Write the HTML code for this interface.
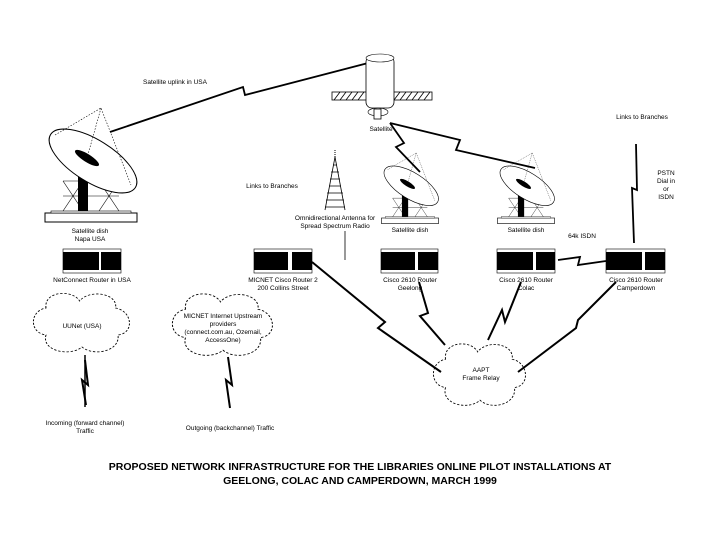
<!DOCTYPE html>
<html><head><meta charset="utf-8"><style>
html,body{margin:0;padding:0;background:#fff;}
svg{display:block;font-family:"Liberation Sans",sans-serif;}
text{font-size:6.5px;fill:#000;text-anchor:middle;}
.t{font-size:10.5px;font-weight:bold;}
</style></head><body>
<svg width="720" height="540" viewBox="0 0 720 540" xmlns="http://www.w3.org/2000/svg">
<defs>
<g id="dish">
  <rect x="-46" y="0" width="92" height="9" fill="#fff" stroke="#000" stroke-width="1"/>
  <rect x="-40" y="-2" width="80" height="2" fill="#fff" stroke="#000" stroke-width="0.6"/>
  <path d="M-28,-2 L-8,-32 M-8,-2 L-28,-32 M8,-2 L28,-32 M28,-2 L8,-32 M-28,-32 L28,-32 M-28,-17 L28,-17" stroke="#000" stroke-width="0.6" fill="none"/>
  <rect x="-13" y="-40" width="10" height="38" fill="#000"/>
  <ellipse cx="2" cy="-52" rx="50" ry="21" transform="rotate(32 2 -52)" fill="#fff" stroke="#000" stroke-width="1"/>
  <ellipse cx="-4" cy="-55" rx="14" ry="4" transform="rotate(32 -4 -55)" fill="#000"/>
  <path d="M-36,-78 L10,-105 L40,-28 M10,-105 L-4,-55" stroke="#000" stroke-width="0.6" stroke-dasharray="1.5,1.5" fill="none"/>
</g>
<path id="cloud" d="M-30,-15 C-32,-32 -8,-34 -2,-22 C6,-34 30,-30 28,-15 C42,-12 44,10 30,12 C32,28 10,34 0,24 C-10,34 -34,28 -30,12 C-44,10 -44,-12 -30,-15 Z" fill="#fff" stroke="#000" stroke-width="0.8" stroke-dasharray="2,1.5"/>
</defs>

<!-- uplink -->
<polyline points="110,132 243,87 245,95 372,62" fill="none" stroke="#000" stroke-width="1.8"/>
<text x="175" y="84">Satellite uplink in USA</text>

<!-- Napa dish -->
<use href="#dish" transform="translate(91,213)"/>
<text x="90" y="233">Satellite dish</text><text x="90" y="241">Napa USA</text>

<!-- Satellite -->
<rect x="332" y="92" width="100" height="8" fill="#fff" stroke="#000" stroke-width="0.8"/>
<path d="M334,100 L340,92 M340,100 L346,92 M346,100 L352,92 M352,100 L358,92 M358,100 L364,92 M394,100 L400,92 M400,100 L406,92 M406,100 L412,92 M412,100 L418,92 M418,100 L424,92 M424,100 L430,92" stroke="#000" stroke-width="0.8"/>
<rect x="366" y="56" width="28" height="52" rx="6" fill="#fff" stroke="#000" stroke-width="0.8"/>
<ellipse cx="380" cy="58" rx="14" ry="4" fill="#fff" stroke="#000" stroke-width="0.6"/>
<ellipse cx="378" cy="112" rx="10" ry="4" fill="#fff" stroke="#000" stroke-width="0.6"/>
<rect x="374" y="109" width="7" height="10" fill="#fff" stroke="#000" stroke-width="0.8"/>
<text x="381" y="131">Satellite</text>

<!-- satellite to dishes -->
<polyline points="390,123 404,143 396,147 420,172" fill="none" stroke="#000" stroke-width="1.8"/>
<polyline points="390,123 460,140 456,150 535,168" fill="none" stroke="#000" stroke-width="1.8"/>

<!-- tower -->
<path d="M335,157 L325,210 M335,157 L345,210" stroke="#000" stroke-width="0.8" fill="none"/>
<path d="M333,165h4M331,172h8M330,179h10M329,186h12M327,193h16M326,200h18M325,207h20" stroke="#000" stroke-width="0.8"/>
<line x1="335" y1="150" x2="335" y2="158" stroke="#000" stroke-dasharray="1,1"/>
<text x="272" y="188">Links to Branches</text>
<text x="335" y="220">Omnidirectional Antenna for</text>
<text x="335" y="228">Spread Spectrum Radio</text>
<line x1="345" y1="231" x2="345" y2="260" stroke="#000" stroke-width="0.8"/>

<!-- Dishes Geelong/Colac -->
<use href="#dish" transform="translate(410,218) scale(0.62)"/>
<text x="410" y="232">Satellite dish</text>
<use href="#dish" transform="translate(526,218) scale(0.62)"/>
<text x="526" y="232">Satellite dish</text>

<!-- routers -->
<g fill="#000" stroke="none">
<rect x="63" y="252" width="36" height="18"/><rect x="101" y="252" width="20" height="18"/>
<rect x="254" y="252" width="34" height="18"/><rect x="292" y="252" width="20" height="18"/>
<rect x="381" y="252" width="34" height="18"/><rect x="418" y="252" width="20" height="18"/>
<rect x="497" y="252" width="36" height="18"/><rect x="536" y="252" width="19" height="18"/>
<rect x="606" y="252" width="36" height="18"/><rect x="645" y="252" width="20" height="18"/>
</g>
<g fill="none" stroke="#000" stroke-width="0.6">
<rect x="63" y="249" width="58" height="24"/><rect x="254" y="249" width="58" height="24"/>
<rect x="381" y="249" width="57" height="24"/><rect x="497" y="249" width="58" height="24"/>
<rect x="606" y="249" width="59" height="24"/>
</g>
<text x="92" y="282">NetConnect Router in USA</text>
<text x="283" y="282">MICNET Cisco Router 2</text><text x="283" y="290">200 Collins Street</text>
<text x="410" y="282">Cisco 2610 Router</text><text x="410" y="290">Geelong</text>
<text x="526" y="282">Cisco 2610 Router</text><text x="526" y="290">Colac</text>
<text x="636" y="282">Cisco 2610 Router</text><text x="636" y="290">Camperdown</text>

<!-- ISDN -->
<polyline points="558,260 580,257 578,265 606,261" fill="none" stroke="#000" stroke-width="1.8"/>
<text x="582" y="238">64k ISDN</text>
<text x="642" y="119">Links to Branches</text>
<polyline points="636,144 637,190 632,188 634,243" fill="none" stroke="#000" stroke-width="1.8"/>
<text x="666" y="175">PSTN</text><text x="666" y="183">Dial in</text><text x="666" y="191">or</text><text x="666" y="199">ISDN</text>

<!-- clouds -->
<use href="#cloud" transform="translate(82,323) scale(1.2,1.0)"/>
<text x="82" y="328">UUNet (USA)</text>
<line x1="85" y1="355" x2="85" y2="407" stroke="#000" stroke-width="1.5"/>
<polyline points="85,360 88,385 82,380 86,405" fill="none" stroke="#000" stroke-width="2"/>
<text x="85" y="425">Incoming (forward channel)</text><text x="85" y="433">Traffic</text>

<use href="#cloud" transform="translate(223,325) scale(1.25,1.05)"/>
<text x="223" y="318">MICNET Internet Upstream</text>
<text x="223" y="326">providers</text>
<text x="223" y="334">(connect.com.au, Ozemail,</text>
<text x="223" y="342">AccessOne)</text>
<polyline points="228,357 232,385 226,380 230,408" fill="none" stroke="#000" stroke-width="2"/>
<text x="230" y="430">Outgoing (backchannel) Traffic</text>

<use href="#cloud" transform="translate(480,375) scale(1.15,1.05)"/>
<text x="481" y="372">AAPT</text><text x="481" y="380">Frame Relay</text>

<!-- frame relay links -->
<polyline points="312,262 385,322 378,328 441,372" fill="none" stroke="#000" stroke-width="2"/>
<polyline points="419,282 428,313 420,316 445,345" fill="none" stroke="#000" stroke-width="2"/>
<polyline points="521,282 505,322 502,310 488,340" fill="none" stroke="#000" stroke-width="2"/>
<polyline points="616,282 578,320 576,328 518,372" fill="none" stroke="#000" stroke-width="2"/>

<text x="360" y="470" class="t">PROPOSED NETWORK INFRASTRUCTURE FOR THE LIBRARIES ONLINE PILOT INSTALLATIONS AT</text>
<text x="360" y="484" class="t">GEELONG, COLAC AND CAMPERDOWN, MARCH 1999</text>
</svg>
</body></html>
